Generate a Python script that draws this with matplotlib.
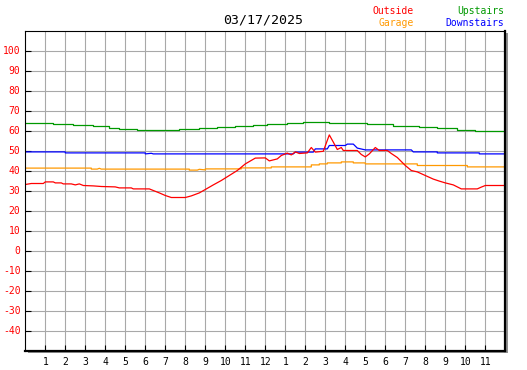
import matplotlib
matplotlib.use("Agg")
import matplotlib.pyplot as plt
from matplotlib.patches import Rectangle

title = "03/17/2025"
hour_labels = ["1", "2", "3", "4", "5", "6", "7", "8", "9", "10", "11", "12",
               "1", "2", "3", "4", "5", "6", "7", "8", "9", "10", "11"]
y_ticks = [-40, -30, -20, -10, 0, 10, 20, 30, 40, 50, 60, 70, 80, 90, 100]

# Outside (red)
out_h = [0.0, 0.3, 0.9, 1.0, 1.4, 1.5, 1.8, 1.9, 2.3, 2.5, 2.7, 2.9, 3.4, 3.8, 4.5, 4.7,
         5.3, 5.4, 6.2, 6.4, 6.7, 7.0, 7.3, 8.0, 8.3, 8.7, 9.0, 9.4, 9.8, 10.2, 10.6,
         11.0, 11.5, 12.0, 12.2, 12.6, 12.8, 13.1, 13.3, 13.5, 13.7, 14.1, 14.3, 14.5,
         14.9, 15.2, 15.4, 15.6, 15.8, 15.9, 16.6, 16.8, 17.0, 17.2, 17.5, 17.7, 18.1,
         18.3, 18.6, 19.0, 19.3, 19.6, 20.0, 20.4, 20.7, 21.0, 21.4, 21.8, 22.6, 22.8,
         23.0, 24.0]
out_v = [33.0, 33.5, 33.5, 34.3, 34.3, 33.8, 33.8, 33.3, 33.3, 32.8, 33.3, 32.5, 32.3, 32.0,
         31.8, 31.3, 31.3, 30.8, 30.8, 30.0, 28.8, 27.5, 26.5, 26.5, 27.3, 28.8, 30.5,
         32.8, 35.0, 37.5, 40.0, 43.3, 46.2, 46.3, 44.8, 45.8, 47.5, 48.7, 47.8, 49.3,
         48.5, 48.8, 51.5, 49.2, 49.6, 57.8, 54.2, 50.5, 51.5, 50.0, 50.0, 48.0, 46.8,
         48.3, 51.5, 50.0, 50.0, 48.5, 46.5, 42.5, 40.0, 39.3, 37.5, 35.7, 34.7, 33.8,
         32.8, 30.8, 30.8, 31.7, 32.5, 32.5]

# Garage (orange)
gar_h = [0.0, 3.3, 3.3, 3.6, 3.7, 3.8, 3.8, 8.2, 8.2, 8.6, 8.7, 9.0, 9.0, 10.8, 10.8,
         12.3, 12.3, 14.3, 14.3, 14.7, 14.7, 15.1, 15.1, 15.8, 15.8, 16.4, 16.4, 17.0,
         17.0, 19.6, 19.6, 22.1, 22.1, 24.0]
gar_v = [41.2, 41.2, 40.7, 40.7, 41.1, 40.7, 40.7, 40.7, 40.2, 40.2, 40.6, 40.3, 40.8,
         40.8, 41.3, 41.3, 41.8, 41.8, 42.8, 42.8, 43.3, 43.3, 43.8, 43.8, 44.3, 44.3,
         43.8, 43.8, 43.3, 43.3, 42.5, 42.5, 41.8, 41.8]

# Upstairs (green)
up_h = [0.0, 1.4, 1.4, 2.4, 2.4, 3.4, 3.4, 4.2, 4.2, 4.7, 4.7, 5.6, 5.6, 6.5, 6.5,
        7.7, 7.7, 8.7, 8.7, 9.6, 9.6, 10.5, 10.5, 11.4, 11.4, 12.1, 12.1, 13.1, 13.1,
        13.9, 13.9, 15.2, 15.2, 17.1, 17.1, 18.4, 18.4, 19.7, 19.7, 20.6, 20.6, 21.6,
        21.6, 22.5, 22.5, 24.0]
up_v = [63.8, 63.8, 63.3, 63.3, 62.8, 62.8, 62.2, 62.2, 61.5, 61.5, 61.0, 61.0, 60.5,
        60.5, 60.2, 60.2, 60.8, 60.8, 61.3, 61.3, 61.8, 61.8, 62.3, 62.3, 62.8, 62.8,
        63.3, 63.3, 63.8, 63.8, 64.3, 64.3, 63.8, 63.8, 63.2, 63.2, 62.5, 62.5, 61.8,
        61.8, 61.2, 61.2, 60.5, 60.5, 59.9, 59.9]

# Downstairs (blue)
down_h = [0.0, 2.0, 2.0, 6.0, 6.0, 6.3, 6.4, 13.4, 13.5, 14.4, 14.5, 15.1, 15.2, 16.0,
          16.1, 16.4, 16.6, 17.0, 19.3, 19.4, 20.6, 20.6, 22.7, 22.7, 24.0]
down_v = [49.3, 49.3, 48.8, 48.8, 48.3, 48.6, 48.3, 48.3, 49.2, 49.2, 50.8, 50.8, 52.5,
          52.5, 53.2, 53.2, 51.2, 50.3, 50.3, 49.3, 49.3, 48.8, 48.8, 48.3, 48.3]

W, H = 527, 370
fig = plt.figure(figsize=(W / 100, H / 100), dpi=100)
L, R, T, B = 25.3, 505.3, 30.5, 350.5
ax = fig.add_axes([L / W, 1 - B / H, (R - L) / W, (B - T) / H])
ax.set_zorder(2)

# shadow
fig.patches.append(Rectangle(((L + 2.5) / W, 1 - (B + 2.5) / H), (R - L) / W, (B - T) / H,
                             transform=fig.transFigure, facecolor="#909090",
                             edgecolor="none", zorder=0))

mono = "DejaVu Sans Mono"
ax.set_xlim(0, 24)
ax.set_ylim(-50, 110)
ax.set_xticks(range(1, 24))
ax.set_xticklabels(hour_labels, fontfamily=mono, fontsize=7, color="black")
ax.set_yticks(y_ticks)
ax.set_yticklabels([str(v) for v in y_ticks], fontfamily=mono, fontsize=7, color="red")
ax.tick_params(axis="both", direction="in", length=4, width=0.8, color="black")
ax.tick_params(axis="x", pad=5)
ax.tick_params(axis="y", pad=3.5)
ax.grid(True, color="#a8a8a8", linewidth=0.8)
ax.set_axisbelow(True)
for s in ["top", "left"]:
    ax.spines[s].set_linewidth(0.8)
for s in ["right", "bottom"]:
    ax.spines[s].set_linewidth(1.6)

lw = 0.9
ax.plot(gar_h, gar_v, color="#ff9900", lw=lw)
ax.plot(up_h, up_v, color="#009900", lw=lw)
ax.plot(down_h, down_v, color="#0000ff", lw=lw)
ax.plot(out_h, out_v, color="#ff0000", lw=lw)

fig.text(263 / W, 1 - 20 / H, title, ha="center", va="center", fontfamily=mono,
         fontsize=9.5, color="black")
fig.text(414 / W, 1 - 11 / H, "Outside", ha="right", va="center", fontfamily=mono,
         fontsize=7, color="red")
fig.text(414 / W, 1 - 23.3 / H, "Garage", ha="right", va="center", fontfamily=mono,
         fontsize=7, color="#ff9900")
fig.text(504.5 / W, 1 - 11 / H, "Upstairs", ha="right", va="center", fontfamily=mono,
         fontsize=7, color="#009900")
fig.text(504.5 / W, 1 - 23.3 / H, "Downstairs", ha="right", va="center", fontfamily=mono,
         fontsize=7, color="#0000ff")

fig.savefig("out.png", dpi=100)
